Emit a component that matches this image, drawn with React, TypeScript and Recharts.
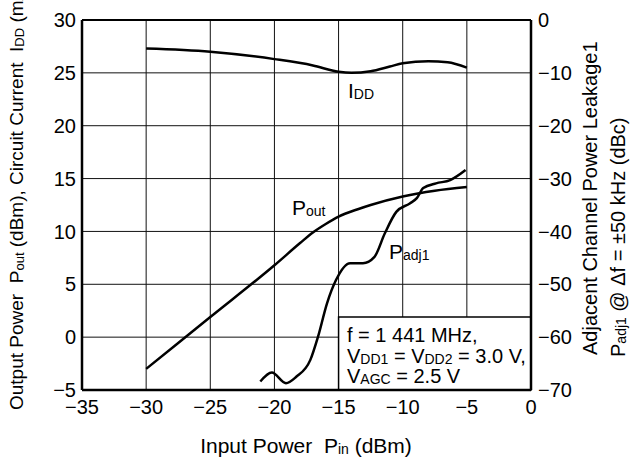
import { ComposedChart, Line, XAxis, YAxis, CartesianGrid, ReferenceArea, ReferenceLine } from 'recharts';

const FONT = '"Liberation Sans", Arial, sans-serif';

// input power (dBm) ticks
const xTicks = [-35, -30, -25, -20, -15, -10, -5, 0];
const leftTicks = [-5, 0, 5, 10, 15, 20, 25, 30];
const rightTicks = [-70, -60, -50, -40, -30, -20, -10, 0];

// circuit current IDD (mA)
const iddPin = [-30, -25, -20, -17, -15, -14, -12.5, -11, -10, -8, -6.5, -5];
const iddVal = [27.3, 27.0, 26.3, 25.7, 25.1, 25.0, 25.15, 25.6, 25.9, 26.1, 26.0, 25.5];

// output power Pout (dBm)
const poutPin = [-30, -25, -20, -18, -17, -16, -15, -13.5, -12.5, -10, -7.5, -5];
const poutVal = [-3.0, 1.9, 6.8, 8.9, 9.9, 10.7, 11.4, 12.1, 12.5, 13.3, 13.85, 14.2];

// adjacent channel leakage Padj1 (dBc)
const padjPin = [-21.1, -20.2, -19.1, -18.3, -17.2, -16.6, -15.9, -15.2, -14.1, -13.1, -12.2, -11.4, -10.5, -9.45, -8.9, -8.4, -7.4, -6.3, -5.1];
const padjVal = [-68.4, -66.7, -68.7, -67.5, -64.3, -59.9, -53.6, -49.2, -46.0, -46.0, -44.8, -40.4, -36.3, -34.7, -33.7, -31.8, -30.9, -30.3, -28.4];

const toRows = (xs: number[], ys: number[]) => xs.map((x, i) => ({ x, y: ys[i] }));
const iddData = toRows(iddPin, iddVal);
const poutData = toRows(poutPin, poutVal);
const padjData = toRows(padjPin, padjVal);

const fmt = (v: number) => (v < 0 ? `\u2212${Math.abs(v)}` : `${v}`);
const tickStyle = { fill: '#000', fontSize: 20, fontFamily: FONT };

const Sub = ({ children, size = 14 }: { children: string; size?: number }) => (
  <tspan fontSize={size} dy={1}>{children}</tspan>
);

export default function App() {
  return (
    <div style={{ position: 'absolute', left: 0, top: 0, width: 634, height: 462, background: '#fff' }}>
      <ComposedChart width={634} height={462} margin={{ top: 20, right: 0, bottom: 0, left: 0 }}>
        <CartesianGrid yAxisId="left" stroke="#111" strokeWidth={1} />
        <XAxis
          dataKey="x"
          type="number"
          domain={[-35, 0]}
          ticks={xTicks}
          tickFormatter={fmt}
          height={72}
          tickSize={0}
          tickMargin={10}
          tick={tickStyle}
          axisLine={{ stroke: '#000', strokeWidth: 2.5 }}
          allowDataOverflow
        />
        <YAxis
          yAxisId="left"
          type="number"
          domain={[-5, 30]}
          ticks={leftTicks}
          tickFormatter={fmt}
          width={82}
          tickSize={0}
          tickMargin={6}
          tick={tickStyle}
          axisLine={{ stroke: '#000', strokeWidth: 2.5 }}
          interval={0}
        />
        <YAxis
          yAxisId="right"
          orientation="right"
          type="number"
          domain={[-70, 0]}
          ticks={rightTicks}
          tickFormatter={fmt}
          width={103}
          tickSize={0}
          tickMargin={7}
          tick={{ ...tickStyle, textAnchor: 'start' }}
          axisLine={{ stroke: '#000', strokeWidth: 2.5 }}
          interval={0}
        />
        <ReferenceLine yAxisId="left" y={30} stroke="#000" strokeWidth={2} />
        <ReferenceArea
          yAxisId="left"
          x1={-15}
          x2={0}
          y1={-5}
          y2={1.9}
          fill="#fff"
          fillOpacity={1}
          stroke="#000"
          strokeWidth={1.5}
        />
        <Line yAxisId="left" data={iddData} dataKey="y" type="monotone" stroke="#000" strokeWidth={2.5} dot={false} isAnimationActive={false} />
        <Line yAxisId="left" data={poutData} dataKey="y" type="monotone" stroke="#000" strokeWidth={2.5} dot={false} isAnimationActive={false} />
        <Line yAxisId="right" data={padjData} dataKey="y" type="monotone" stroke="#000" strokeWidth={2.5} dot={false} isAnimationActive={false} />
      </ComposedChart>

      <svg width={634} height={462} style={{ position: 'absolute', left: 0, top: 0, pointerEvents: 'none' }} fontFamily={FONT} fill="#000">
        <text x={306} y={453} fontSize={21} textAnchor="middle">
          Input Power{'\u00a0\u00a0'}P<Sub>in</Sub><tspan dy={-1}> (dBm)</tspan>
        </text>
        <text transform="translate(23,410) rotate(-90)" fontSize={19}>
          Output Power{'\u00a0\u00a0'}P<Sub size={13}>out</Sub><tspan dy={-1}> (dBm), Circuit Current{'\u00a0\u00a0'}I</tspan><Sub size={13}>DD</Sub><tspan dy={-1}> (mA)</tspan>
        </text>
        <text transform="translate(597,355) rotate(-90)" fontSize={20}>
          Adjacent Channel Power Leakage1
        </text>
        <text transform="translate(625,357) rotate(-90)" fontSize={20}>
          P<Sub>adj1</Sub><tspan dy={-1}> @ {'\u0394'}f = {'\u00b1'}50 kHz (dBc)</tspan>
        </text>
        <text x={348} y={98} fontSize={21}>
          I<Sub>DD</Sub>
        </text>
        <text x={292} y={215} fontSize={21}>
          P<Sub>out</Sub>
        </text>
        <text x={389} y={259} fontSize={21}>
          P<Sub>adj1</Sub>
        </text>
        <text x={347} y={342} fontSize={20}>f = 1 441 MHz,</text>
        <text x={347} y={363} fontSize={20}>
          V<Sub>DD1</Sub><tspan dy={-1}> = V</tspan><Sub>DD2</Sub><tspan dy={-1}> = 3.0 V,</tspan>
        </text>
        <text x={347} y={383} fontSize={20}>
          V<Sub>AGC</Sub><tspan dy={-1}> = 2.5 V</tspan>
        </text>
      </svg>
    </div>
  );
}
